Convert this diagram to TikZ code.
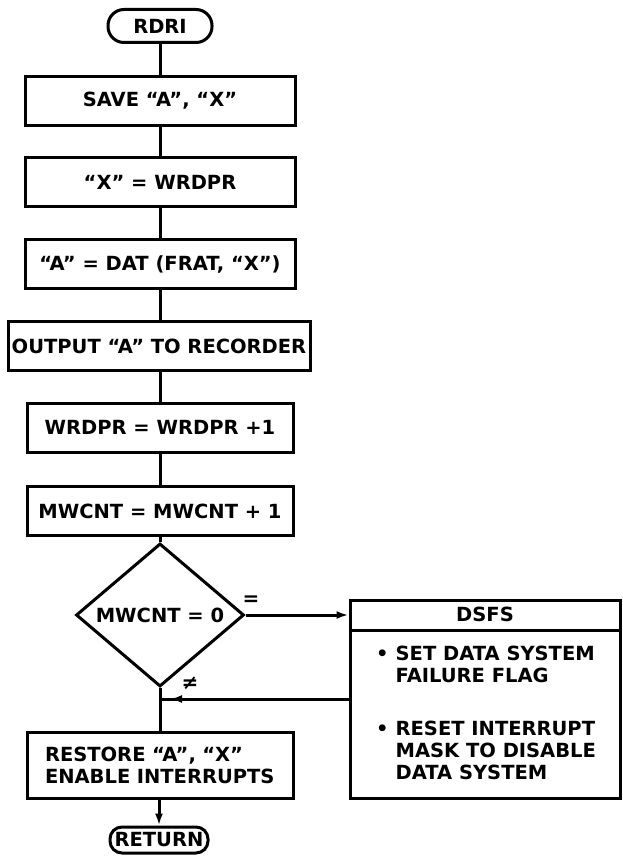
\documentclass[tikz,border=0pt]{standalone}
\usepackage{fontspec}
\setmainfont{DejaVu Sans}
\usetikzlibrary{shapes.geometric,arrows.meta}
\begin{document}
\begin{tikzpicture}[x=1pt,y=-1pt,
  every node/.style={font=\bfseries\fontsize{19.5}{22}\selectfont},
  line/.style={line width=3pt},
  term/.style={draw,line width=3pt,rectangle,rounded corners=14pt,inner sep=0pt},
  box/.style={draw,line width=3pt,rectangle,minimum height=49pt,inner sep=0pt},
  decision/.style={draw,line width=3pt,diamond,minimum width=168pt,minimum height=94pt,inner sep=0pt},
  arr/.style={line width=3pt,-{Latex[length=12pt,width=8pt]}},
  lab/.style={font=\bfseries\fontsize{20}{20}\selectfont},
]
\useasboundingbox (0,0) rectangle (623,859);

\node[term,minimum width=104pt,minimum height=33pt,rounded corners=16pt] (rdri) at (160,26) {RDRI};
\node[box,minimum width=270pt] (save) at (160,100.5) {SAVE “A”, “X”};
\node[box,minimum width=270pt] (wrd) at (160,182) {“X” = WRDPR};
\node[box,minimum width=270pt] (dat) at (160,264) {“A” = DAT (FRAT, “X”)};
\node[box,minimum width=302pt] (out) at (159,346) {OUTPUT “A” TO RECORDER};
\node[box,minimum width=266pt] (inc) at (160,427.5) {WRDPR = WRDPR +1};
\node[box,minimum width=266pt] (mw) at (160,511) {MWCNT = MWCNT + 1};
\node[decision] (dec) at (160,615) {MWCNT = 0};
\node[box,minimum width=266pt,minimum height=66pt,align=left,text width=230pt,inner xsep=18pt] (rest) at (160,765) {RESTORE “A”, “X”\\ENABLE INTERRUPTS};
\node[term,minimum width=98pt,minimum height=26pt,rounded corners=12pt] (ret) at (159,840) {RETURN};

\node[draw,line width=3pt,rectangle,minimum width=270pt,minimum height=198pt,inner sep=0pt] (dsfs) at (485,699) {};
\draw[line width=3.4pt] ([yshift=-32pt]dsfs.north west) -- ([yshift=-32pt]dsfs.north east);
\node (dhead) at ([yshift=-16pt]dsfs.north) {DSFS};
\node[anchor=north west,inner sep=0pt] (b1) at (376,645) {\begin{tabular}{@{}l@{\hspace{7pt}}l@{}}•&SET DATA SYSTEM\\&FAILURE FLAG\end{tabular}};
\node[anchor=north west,inner sep=0pt] (b2) at (376,720) {\begin{tabular}{@{}l@{\hspace{7pt}}l@{}}•&RESET INTERRUPT\\&MASK TO DISABLE\\&DATA SYSTEM\end{tabular}};

\coordinate (j) at (dec.south |- dsfs.west);

\draw[line] (rdri.south) -- (save.north);
\draw[line] (save.south) -- (wrd.north);
\draw[line] (wrd.south) -- (dat.north);
\draw[line] (dat.south) -- (out.north -| dat.south);
\draw[line] (out.south -| dat.south) -- (inc.north);
\draw[line] (inc.south) -- (mw.north);
\draw[line] (mw.south) -- (dec.north);
\draw[line] (dec.south) -- (rest.north -| dec.south);
\draw[arr] (dec.east) -- (dec.east -| dsfs.west);
\draw[line] (dsfs.west) -- (j);
\draw[arr] (dsfs.west) -- ([xshift=10pt]j);
\draw[arr] (rest.south -| ret.north) -- (ret.north);

\node[lab] (eq) at (251,601) {=};
\node[lab] (ne) at (190,683) {≠};
\end{tikzpicture}
\end{document}
